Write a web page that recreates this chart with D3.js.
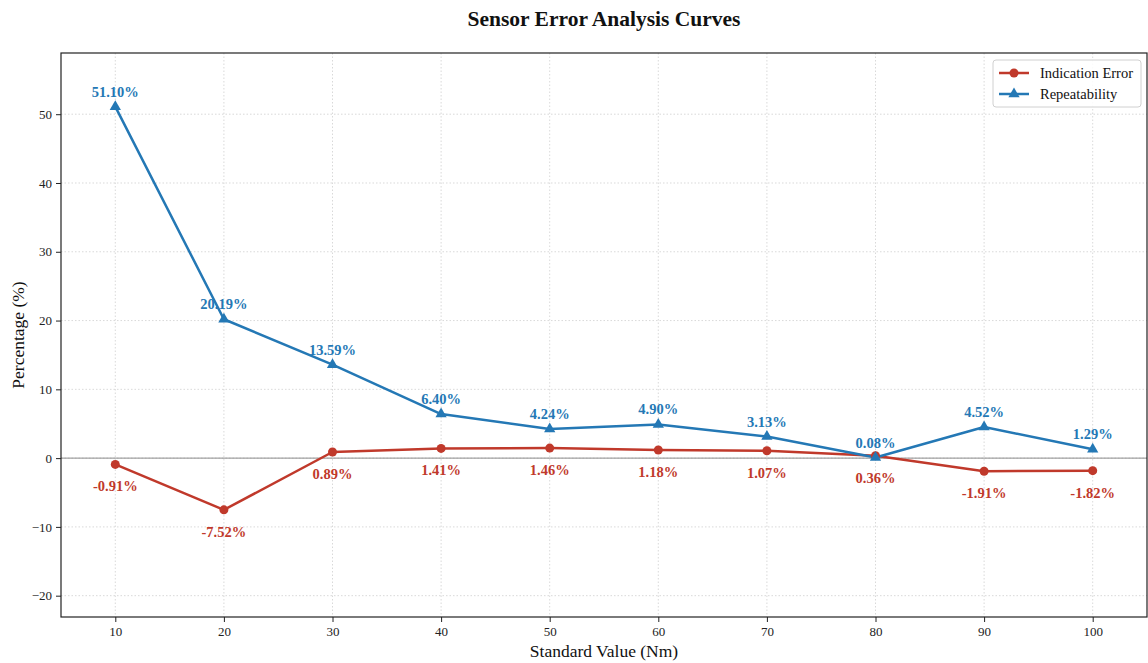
<!DOCTYPE html>
<html>
<head>
<meta charset="utf-8">
<script src="https://cdn.jsdelivr.net/npm/d3@7"></script>
<style>
  html, body { margin: 0; padding: 0; background: #fff; }
  svg { display: block; font-family: "Liberation Serif", "Times New Roman", serif; }
</style>
</head>
<body>
<svg id="chart" width="1148" height="663"></svg>
<script>
// Standard torque values (Nm) and the two error metrics in percent
const standardValues = [10, 20, 30, 40, 50, 60, 70, 80, 90, 100];
const indicationError = [-0.91, -7.52, 0.89, 1.41, 1.46, 1.18, 1.07, 0.36, -1.91, -1.82];
const repeatability = [51.10, 20.19, 13.59, 6.40, 4.24, 4.90, 3.13, 0.08, 4.52, 1.29];
const xTicks = [10, 20, 30, 40, 50, 60, 70, 80, 90, 100];
const yTicks = [-20, -10, 0, 10, 20, 30, 40, 50];

const W = 1148, H = 663;
const margin = { top: 53, right: 1, bottom: 46, left: 61 };
const svg = d3.select("#chart");

const x = d3.scaleLinear().domain([5, 105]).range([margin.left, W - margin.right]);
const y = d3.scaleLinear().domain([-23.1, 58.9]).range([H - margin.bottom, margin.top]);

const RED = "#c0392b", BLUE = "#2478b5";

// grid
const grid = svg.append("g");
grid.selectAll("line.v").data(xTicks).join("line")
  .attr("x1", d => x(d)).attr("x2", d => x(d))
  .attr("y1", margin.top).attr("y2", H - margin.bottom)
  .attr("stroke", "#cfcfcf").attr("stroke-width", 0.8).attr("stroke-dasharray", "1.5,2");
grid.selectAll("line.h").data(yTicks).join("line")
  .attr("x1", margin.left).attr("x2", W - margin.right)
  .attr("y1", d => y(d)).attr("y2", d => y(d))
  .attr("stroke", "#cfcfcf").attr("stroke-width", 0.8).attr("stroke-dasharray", "1.5,2");

// zero reference line
svg.append("line")
  .attr("x1", margin.left).attr("x2", W - margin.right)
  .attr("y1", y(0)).attr("y2", y(0))
  .attr("stroke", "#8c8c8c").attr("stroke-width", 1);

// axes
const xAxis = svg.append("g")
  .attr("transform", `translate(0,${H - margin.bottom})`)
  .call(d3.axisBottom(x).tickValues(xTicks).tickSize(5).tickPadding(5));
const yAxis = svg.append("g")
  .attr("transform", `translate(${margin.left},0)`)
  .call(d3.axisLeft(y).tickValues(yTicks).tickSize(5).tickPadding(4));
[xAxis, yAxis].forEach(a => {
  a.select(".domain").remove();
  a.selectAll("line").attr("stroke", "#222");
  a.selectAll("text").attr("font-family", "Liberation Serif, serif").attr("font-size", 13).attr("fill", "#222");
});

// frame
svg.append("rect")
  .attr("x", margin.left).attr("y", margin.top)
  .attr("width", W - margin.right - margin.left).attr("height", H - margin.bottom - margin.top)
  .attr("fill", "none").attr("stroke", "#222").attr("stroke-width", 1.2);

// value labels (drawn beneath the lines)
const labels = svg.append("g").attr("font-weight", "bold").attr("font-size", 14.5).attr("text-anchor", "middle");
labels.selectAll("text.r").data(standardValues).join("text")
  .attr("x", d => x(d)).attr("y", (d, i) => y(indicationError[i]) + 27)
  .attr("fill", RED).text((d, i) => indicationError[i].toFixed(2) + "%");
labels.selectAll("text.b").data(standardValues).join("text")
  .attr("x", d => x(d)).attr("y", (d, i) => y(repeatability[i]) - 10)
  .attr("fill", BLUE).text((d, i) => repeatability[i].toFixed(2) + "%");

// lines
const line = d3.line().x(d => x(d[0])).y(d => y(d[1]));
svg.append("path").datum(standardValues.map((v, i) => [v, indicationError[i]]))
  .attr("d", line).attr("fill", "none").attr("stroke", RED).attr("stroke-width", 2.5).attr("stroke-linejoin", "round");
svg.append("path").datum(standardValues.map((v, i) => [v, repeatability[i]]))
  .attr("d", line).attr("fill", "none").attr("stroke", BLUE).attr("stroke-width", 2.5).attr("stroke-linejoin", "round");

// markers
svg.append("g").selectAll("circle").data(standardValues).join("circle")
  .attr("cx", d => x(d)).attr("cy", (d, i) => y(indicationError[i])).attr("r", 4.5).attr("fill", RED);
const tri = d3.symbol().type(d3.symbolTriangle).size(55);
svg.append("g").selectAll("path").data(standardValues).join("path")
  .attr("transform", (d, i) => `translate(${x(d)},${y(repeatability[i])})`)
  .attr("d", tri).attr("fill", BLUE);

// title and axis labels
svg.append("text").attr("x", 604).attr("y", 26).attr("text-anchor", "middle")
  .attr("font-size", 21.5).attr("font-weight", "bold").attr("fill", "#111").text("Sensor Error Analysis Curves");
svg.append("text").attr("x", 604).attr("y", 657).attr("text-anchor", "middle")
  .attr("font-size", 17.5).attr("fill", "#111").text("Standard Value (Nm)");
svg.append("text").attr("transform", `translate(24,${(margin.top + H - margin.bottom) / 2}) rotate(-90)`)
  .attr("text-anchor", "middle").attr("font-size", 17.5).attr("fill", "#111").text("Percentage (%)");

// legend
const lg = svg.append("g").attr("transform", "translate(993,60)");
lg.append("rect").attr("width", 148).attr("height", 47).attr("rx", 3)
  .attr("fill", "#fff").attr("fill-opacity", 0.85).attr("stroke", "#d0d0d0");
const items = [
  { name: "Indication Error", color: RED, shape: "circle" },
  { name: "Repeatability", color: BLUE, shape: "triangle" }
];
items.forEach((it, i) => {
  const g = lg.append("g").attr("transform", `translate(0,${13 + i * 21})`);
  g.append("line").attr("x1", 6).attr("x2", 36).attr("y1", 0).attr("y2", 0)
    .attr("stroke", it.color).attr("stroke-width", 2.5);
  if (it.shape === "circle") g.append("circle").attr("cx", 21).attr("cy", 0).attr("r", 4.5).attr("fill", it.color);
  else g.append("path").attr("transform", "translate(21,0)").attr("d", tri).attr("fill", it.color);
  g.append("text").attr("x", 47).attr("y", 5).attr("font-size", 14.5).attr("fill", "#111").text(it.name);
});
</script>
</body>
</html>
